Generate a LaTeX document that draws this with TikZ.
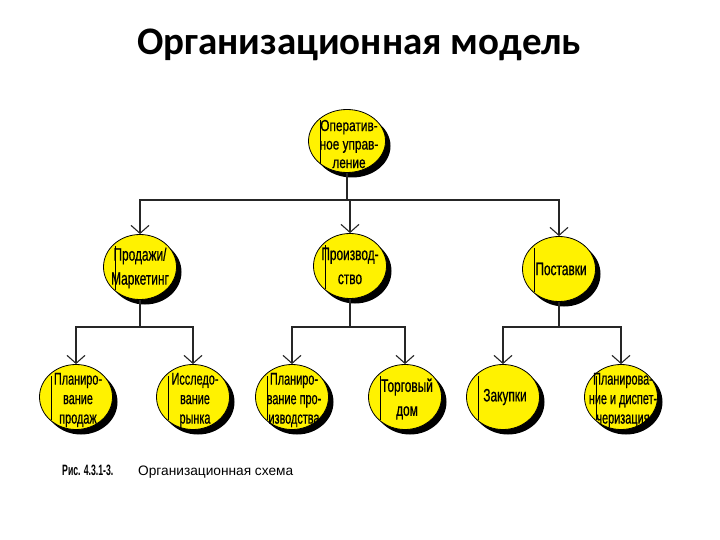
\documentclass[tikz,border=0pt]{standalone}
\usepackage{fontspec}
\setmainfont{Liberation Sans}
\newfontfamily\titlefont{Carlito}
\newfontfamily\narrowfont[FakeStretch=0.66,FakeBold=0.6]{Liberation Sans}
\newfontfamily\narrowerfont[FakeStretch=0.64,FakeBold=0.6]{Liberation Sans}
\newfontfamily\topfont[FakeStretch=0.74,FakeBold=0.6]{Liberation Sans}
\newfontfamily\capboldfont[FakeStretch=0.58]{Liberation Sans Bold}
\usetikzlibrary{arrows.meta,shapes.geometric,shadows}
\begin{document}
\begin{tikzpicture}[x=1pt,y=-1pt,
 org/.style={ellipse, draw=black, line width=0.8pt, fill=yellow,
   minimum width=73pt, minimum height=65pt, inner sep=0pt,
   drop shadow={shadow xshift=5pt, shadow yshift=-5pt, fill=black, opacity=1},
   path picture={\draw[line width=0.9pt] ([xshift=12pt,yshift=21pt]path picture bounding box.west) -- ([xshift=12pt,yshift=-23pt]path picture bounding box.west);}},
 txt/.style={align=center, inner sep=0pt, font=\narrowfont\fontsize{18}{21}\selectfont},
 txtb/.style={txt, font=\narrowfont\fontsize{18}{24}\selectfont},
 txtc/.style={txt, font=\narrowerfont\fontsize{17}{19.5}\selectfont},
 txtt/.style={txt, font=\topfont\fontsize{16}{18.5}\selectfont},
 conn/.style={draw=black!85, line width=1.1pt},
 arr/.style={conn, -{Straight Barb[length=8pt,width=18pt,line width=1.1pt]}}
]
\path[use as bounding box] (0,0) rectangle (720,540);

\node[font=\titlefont\bfseries\fontsize{39}{44}\selectfont] (title) at (359,45) {Организационная модель};

% top
\node[org, minimum width=77pt, minimum height=63pt] (top) at (347,141) {};
\node[txtt] (topt) at ([xshift=2pt,yshift=-3pt]top.center) {Оператив-\\ное управ-\\ление};

% level 2
\node[org] (b1) at (140,267) {};
\node[txtb] (b1t) at ([yshift=-1pt]b1.center) {Продажи/\\Маркетинг};
\node[org] (b2) at (350,266) {};
\node[txtb] (b2t) at (b2.center) {Производ-\\ство};
\node[org] (b3) at (559,269) {};
\node[txt] (b3t) at ([xshift=2pt]b3.center) {Поставки};

% level 3
\node[org] (c1) at (76,397) {};
\node[txtc] (c1t) at ([xshift=2pt,yshift=-3pt]c1.center) {Планиро-\\вание\\продаж};
\node[org] (c2) at (193,397) {};
\node[txtc] (c2t) at ([xshift=2pt,yshift=-3pt]c2.center) {Исследо-\\вание\\рынка};
\node[org] (c3) at (292,397) {};
\node[txtc] (c3t) at ([xshift=2pt,yshift=-3pt]c3.center) {Планиро-\\вание про-\\изводства};
\node[org] (c4) at (405,397) {};
\node[txtb] (c4t) at ([xshift=2pt,yshift=-2pt]c4.center) {Торговый\\дом};
\node[org] (c5) at (503,397) {};
\node[txt] (c5t) at ([xshift=2pt]c5.center) {Закупки};
\node[org] (c6) at (621,397) {};
\node[txtc] (c6t) at ([xshift=2pt,yshift=-3pt]c6.center) {Планирова-\\ние и диспет-\\черизация};

% connectors
\coordinate (j0) at (349,200);
\draw[conn] (top.south) -- (top.south |- j0);
\draw[arr] (top.south |- j0) -| (b1.north);
\draw[arr] (top.south |- j0) -| (b2.north);
\draw[arr] (top.south |- j0) -| (b3.north);

\coordinate (j1) at (137,327);
\draw[conn] (b1.south) -- (b1.south |- j1);
\draw[conn] (b2.south) -- (b2.south |- j1);
\draw[conn] (b3.south) -- (b3.south |- j1);
\draw[arr] (b1.south |- j1) -| (c1.north);
\draw[arr] (b1.south |- j1) -| (c2.north);
\draw[arr] (b2.south |- j1) -| (c3.north);
\draw[arr] (b2.south |- j1) -| (c4.north);
\draw[arr] (b3.south |- j1) -| (c5.north);
\draw[arr] (b3.south |- j1) -| (c6.north);

% caption
\node[anchor=base west, inner sep=0pt, font=\capboldfont\fontsize{15}{17}\selectfont] (cap1) at (62,475) {Рис. 4.3.1-3.};
\node[anchor=base west, inner sep=0pt, font=\fontsize{13.7}{16}\selectfont] (cap2) at (138,475) {Организационная схема};
\end{tikzpicture}
\end{document}
